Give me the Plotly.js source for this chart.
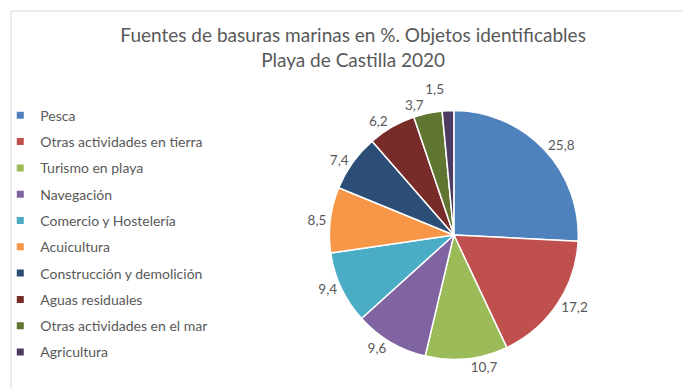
<!DOCTYPE html>
<html>
<head>
<meta charset="utf-8">
<script src="https://cdn.plot.ly/plotly-3.0.1.min.js"></script>
<style>
  html, body { margin: 0; padding: 0; background: #fff; }
  #chart { width: 683px; height: 388px; }
  #chart .textline { display: none; }
</style>
</head>
<body>
<div id="chart"></div>
<script>
const categories = [
  "Pesca",
  "Otras actividades en tierra",
  "Turismo en playa",
  "Navegación",
  "Comercio y Hostelería",
  "Acuicultura",
  "Construcción y demolición",
  "Aguas residuales",
  "Otras actividades en el mar",
  "Agricultura"
];
const values = [25.8, 17.2, 10.7, 9.6, 9.4, 8.5, 7.4, 6.2, 3.7, 1.5];
const colors = ["#4F81BD", "#C0504D", "#9BBB59", "#8064A2", "#4BACC6",
                "#F79646", "#2C4D75", "#772C2A", "#5F7530", "#4D3B62"];
const titleText = "Fuentes de basuras marinas en %. Objetos identificables<br>Playa de Castilla 2020";

const fontFamily = "Lato, 'Open Sans', sans-serif";
const textColor = "#595959";

const pieTrace = {
  type: "pie",
  labels: categories,
  values: values,
  sort: false,
  direction: "clockwise",
  rotation: 0,
  showlegend: false,
  marker: { colors: colors, line: { color: "#ffffff", width: 1.5 } },
  textposition: "outside",
  texttemplate: "%{value:.1f}",
  textfont: { family: fontFamily, size: 13.5, color: textColor },
  outsidetextfont: { family: fontFamily, size: 13.5, color: textColor },
  automargin: false,
  domain: { x: [0.480, 0.846], y: [0.0722, 0.7165] },
  hoverinfo: "label+value"
};

// Legend entries (one per category, built from the same arrays)
const legendTraces = categories.map((name, i) => ({
  type: "scatter",
  mode: "markers",
  x: [null],
  y: [null],
  name: name,
  legendgroup: "g" + i,
  showlegend: true,
  marker: { symbol: "square", size: 7, color: colors[i] },
  hoverinfo: "skip"
}));

const layout = {
  width: 683,
  height: 388,
  margin: { l: 0, r: 0, t: 0, b: 0 },
  paper_bgcolor: "#ffffff",
  plot_bgcolor: "rgba(0,0,0,0)",
  separators: ",.",
  xaxis: { visible: false, domain: [0.9, 0.91] },
  yaxis: { visible: false, domain: [0.9, 0.91] },
  title: {
    text: titleText,
    font: { family: fontFamily, size: 19, color: textColor },
    x: 0.517,
    xanchor: "center",
    y: 0.891,
    yanchor: "top",
    yref: "container"
  },
  showlegend: true,
  legend: {
    x: -0.004,
    xanchor: "left",
    y: 0.743,
    yanchor: "top",
    tracegroupgap: 5.1,
    font: { family: fontFamily, size: 14, color: textColor },
    bgcolor: "rgba(0,0,0,0)"
  },
  shapes: [{
    type: "rect", xref: "paper", yref: "paper",
    x0: 8 / 683, x1: 1.05, y0: -0.05, y1: 1 - 11 / 388,
    line: { color: "#d9d9d9", width: 1 }, fillcolor: "rgba(0,0,0,0)"
  }]
};

Plotly.newPlot("chart", [pieTrace].concat(legendTraces), layout, { displayModeBar: false, staticPlot: true });
</script>
</body>
</html>
